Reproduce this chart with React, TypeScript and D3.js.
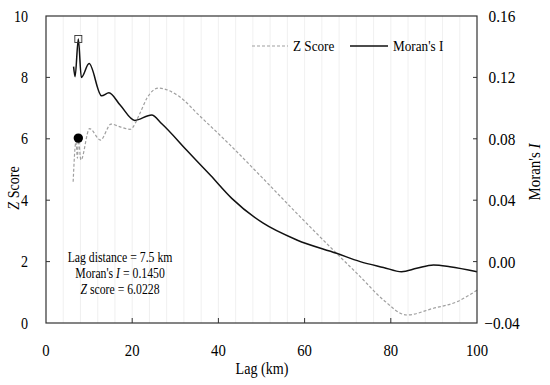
import React from "react";
import * as d3 from "d3";

const lagZ = [6.3, 6.95, 7.3, 7.5, 8.1, 10.1, 12.65, 15.1, 17.2, 19.5, 21.8, 23.4, 26.1, 30.7, 35.7, 42.7, 50.4, 58.2, 67.4, 72.9, 78.3, 83.7, 89.9, 95.3, 100];
const zScore = [4.6, 5.9, 5.37, 6.02, 5.31, 6.33, 5.96, 6.48, 6.39, 6.31, 6.83, 7.32, 7.65, 7.4, 6.74, 5.8, 4.7, 3.57, 2.27, 1.51, 0.75, 0.26, 0.48, 0.69, 1.07];
const lagI = [6.4, 6.75, 7.5, 8.2, 10.0, 12.9, 14.6, 17.2, 20.6, 24.5, 26.8, 32.6, 38.1, 43.1, 50.4, 58.2, 67.4, 72.9, 78.3, 82.5, 86.0, 89.9, 93.7, 100];
const moranI = [0.127, 0.1205, 0.145, 0.12, 0.129, 0.108, 0.11, 0.102, 0.092, 0.0955, 0.09, 0.0727, 0.0564, 0.0412, 0.025, 0.0141, 0.0054, 0.0, -0.0038, -0.0066, -0.0044, -0.0022, -0.0033, -0.0066];

const xTicks = [0, 20, 40, 60, 80, 100];
const zTicks = [0, 2, 4, 6, 8, 10];
const iTicks = [-0.04, 0.0, 0.04, 0.08, 0.12, 0.16];
const gridLags = d3.range(4, 100, 4);

const peakLag = 7.5;
const peakI = 0.145;
const peakZ = 6.0228;

const FONT = '"Liberation Serif", "DejaVu Serif", serif';

function T({ x, y, sx = 0.88, rot = 0, anchor = "start", size = 14, children }: any) {
  return (
    <text
      transform={`translate(${x},${y}) rotate(${rot}) scale(${sx},1)`}
      textAnchor={anchor}
      dy="0.35em"
      fontSize={size}
    >
      {children}
    </text>
  );
}

export default function App() {
  const L = 46, R = 477, Tp = 16, B = 323;
  const x = d3.scaleLinear().domain([0, 100]).range([L, R]);
  const yZ = d3.scaleLinear().domain([0, 10]).range([B, Tp]);
  const yI = d3.scaleLinear().domain([-0.04, 0.16]).range([B, Tp]);

  const lineZ = d3
    .line<number>()
    .x((_, i) => x(lagZ[i]))
    .y((d) => yZ(d))
    .curve(d3.curveMonotoneX);
  const lineI = d3
    .line<number>()
    .x((_, i) => x(lagI[i]))
    .y((d) => yI(d))
    .curve(d3.curveMonotoneX);

  const fmtI = (v: number) => (v < 0 ? "\u2212" + Math.abs(v).toFixed(2) : v.toFixed(2));

  return (
    <svg
      width={550}
      height={385}
      style={{ position: "absolute", left: 0, top: 0, background: "#fff", fontFamily: FONT }}
    >
      {gridLags.map((g) => (
        <line key={g} x1={x(g)} x2={x(g)} y1={Tp} y2={B} stroke="#ececec" strokeWidth={0.8} />
      ))}

      <path d={lineZ(zScore) || ""} fill="none" stroke="#a0a0a0" strokeWidth={1.2} strokeDasharray="3,2" />
      <path d={lineI(moranI) || ""} fill="none" stroke="#111" strokeWidth={1.5} />

      <rect x={x(peakLag) - 3.5} y={yI(peakI) - 3.5} width={7} height={7} fill="none" stroke="#333" strokeWidth={0.9} />
      <circle cx={x(peakLag)} cy={yZ(peakZ)} r={4.7} fill="#000" />

      <rect x={L} y={Tp} width={R - L} height={B - Tp} fill="none" stroke="#333" strokeWidth={1.2} />

      {zTicks.map((t) => (
        <g key={"z" + t}>
          {t > 0 && t < 10 && <line x1={L} x2={L + 4} y1={yZ(t)} y2={yZ(t)} stroke="#333" />}
          <T x={28} y={yZ(t)} anchor="end" size={16}>
            {t}
          </T>
        </g>
      ))}

      {iTicks.map((t) => (
        <g key={"i" + t}>
          {t > -0.04 && t < 0.16 && <line x1={R - 4} x2={R} y1={yI(t)} y2={yI(t)} stroke="#333" />}
          <T x={502} y={yI(t)} anchor="middle" size={17} sx={0.9}>
            {fmtI(t)}
          </T>
        </g>
      ))}

      {xTicks.map((t) => (
        <g key={"x" + t}>
          {t > 0 && t < 100 && <line x1={x(t)} x2={x(t)} y1={B} y2={B - 5} stroke="#333" />}
          <T x={x(t)} y={350} anchor="middle" size={16} sx={0.92}>
            {t}
          </T>
        </g>
      ))}

      <T x={262} y={368} anchor="middle" size={16}>
        Lag (km)
      </T>
      <T x={13} y={188} rot={-90} anchor="middle" size={16}>
        <tspan fontStyle="italic">Z</tspan> Score
      </T>
      <T x={534} y={172} rot={-90} anchor="middle" size={17}>
        Moran's <tspan fontStyle="italic">I</tspan>
      </T>

      <line x1={252} x2={288} y1={46} y2={46} stroke="#a0a0a0" strokeWidth={1.1} strokeDasharray="3,2" />
      <T x={293} y={46} size={15}>
        Z Score
      </T>
      <line x1={350} x2={388} y1={46} y2={46} stroke="#111" strokeWidth={1.5} />
      <T x={393} y={46} size={15}>
        Moran's I
      </T>

      <T x={120} y={257} anchor="middle" size={14} sx={0.84}>
        Lag distance = 7.5 km
      </T>
      <T x={120} y={273} anchor="middle" size={14} sx={0.84}>
        Moran's <tspan fontStyle="italic">I</tspan> = 0.1450
      </T>
      <T x={120} y={289} anchor="middle" size={14} sx={0.84}>
        <tspan fontStyle="italic">Z</tspan> score = 6.0228
      </T>
    </svg>
  );
}
